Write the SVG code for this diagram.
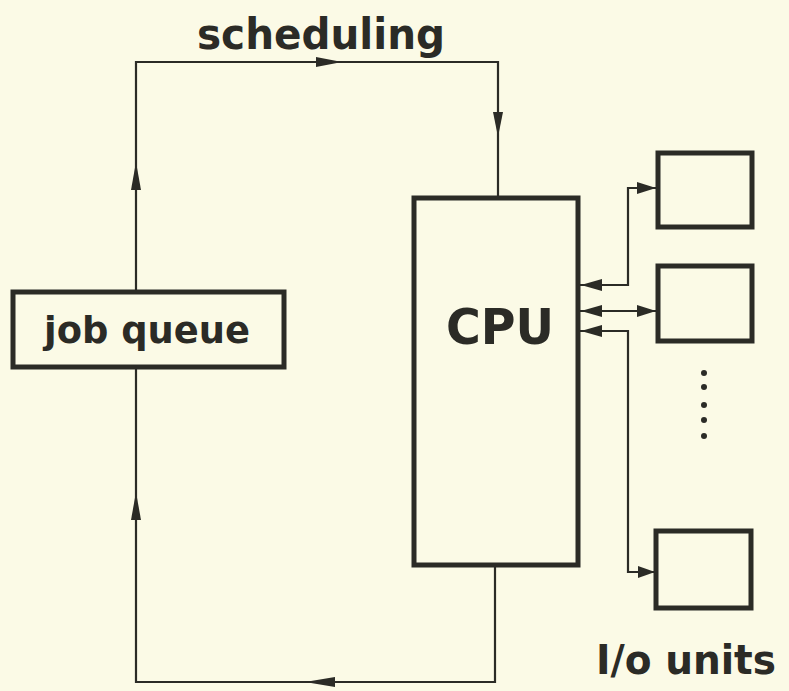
<svg xmlns="http://www.w3.org/2000/svg" width="789" height="691" viewBox="0 0 789 691">
<style>
.bg{fill:#fbfae6}
.box{fill:none;stroke:#2b2b26;stroke-width:5}
.ln{fill:none;stroke:#2b2b26;stroke-width:2.2}
.ah{fill:#2b2b26}
.t{font-family:"DejaVu Sans",sans-serif;font-weight:bold;fill:#2b2b26}
</style>
<rect class="bg" x="0" y="0" width="789" height="691"/>
<g id="connectors">
<polyline class="ln" points="136,292 136,62 498,62 498,197"/>
<polyline class="ln" points="136,367 136,682 495,682 495,565"/>
<polygon class="ah" points="342,62 316,57 316,67"/>
<polygon class="ah" points="498,137 493,112 503,112"/>
<polygon class="ah" points="136,162 131,190 141,190"/>
<polygon class="ah" points="136,492 131,520 141,520"/>
<polygon class="ah" points="305,682 335,677 335,687"/>
<polyline class="ln" points="580,285 628,285 628,188 656,188"/>
<polygon class="ah" points="581,285 602,279 602,291"/>
<polygon class="ah" points="656,188 637,182 637,194"/>
<line class="ln" x1="580" y1="311" x2="656" y2="311"/>
<polygon class="ah" points="581,311 602,305 602,317"/>
<polygon class="ah" points="656,311 637,305 637,317"/>
<polyline class="ln" points="580,331 628,331 628,572 655,572"/>
<polygon class="ah" points="581,331 602,325 602,337"/>
<polygon class="ah" points="655,572 638,566 638,578"/>
<g class="ah">
<circle cx="704" cy="373" r="3"/>
<circle cx="704" cy="387" r="3"/>
<circle cx="704" cy="405" r="3"/>
<circle cx="704" cy="420" r="3"/>
<circle cx="704" cy="436" r="3"/>
</g>
</g>
<g id="scheduling-label">
<text class="t" x="321" y="49" font-size="42" text-anchor="middle" textLength="248" lengthAdjust="spacingAndGlyphs">scheduling</text>
</g>
<g id="job-queue">
<rect class="box" x="13" y="292" width="271" height="75"/>
<text class="t" x="147" y="343" font-size="38" text-anchor="middle" textLength="206" lengthAdjust="spacingAndGlyphs">job queue</text>
</g>
<g id="cpu">
<rect class="box" x="414" y="198" width="164" height="367"/>
<text class="t" x="500" y="344" font-size="50" text-anchor="middle" textLength="108" lengthAdjust="spacingAndGlyphs">CPU</text>
</g>
<g id="io1">
<rect class="box" x="658" y="153" width="94" height="74"/>
</g>
<g id="io2">
<rect class="box" x="658" y="266" width="94" height="75"/>
</g>
<g id="io3">
<rect class="box" x="656" y="531" width="95" height="77"/>
</g>
<g id="io-label">
<text class="t" x="686" y="674" font-size="40" text-anchor="middle" textLength="180" lengthAdjust="spacingAndGlyphs">I/o units</text>
</g>
</svg>
